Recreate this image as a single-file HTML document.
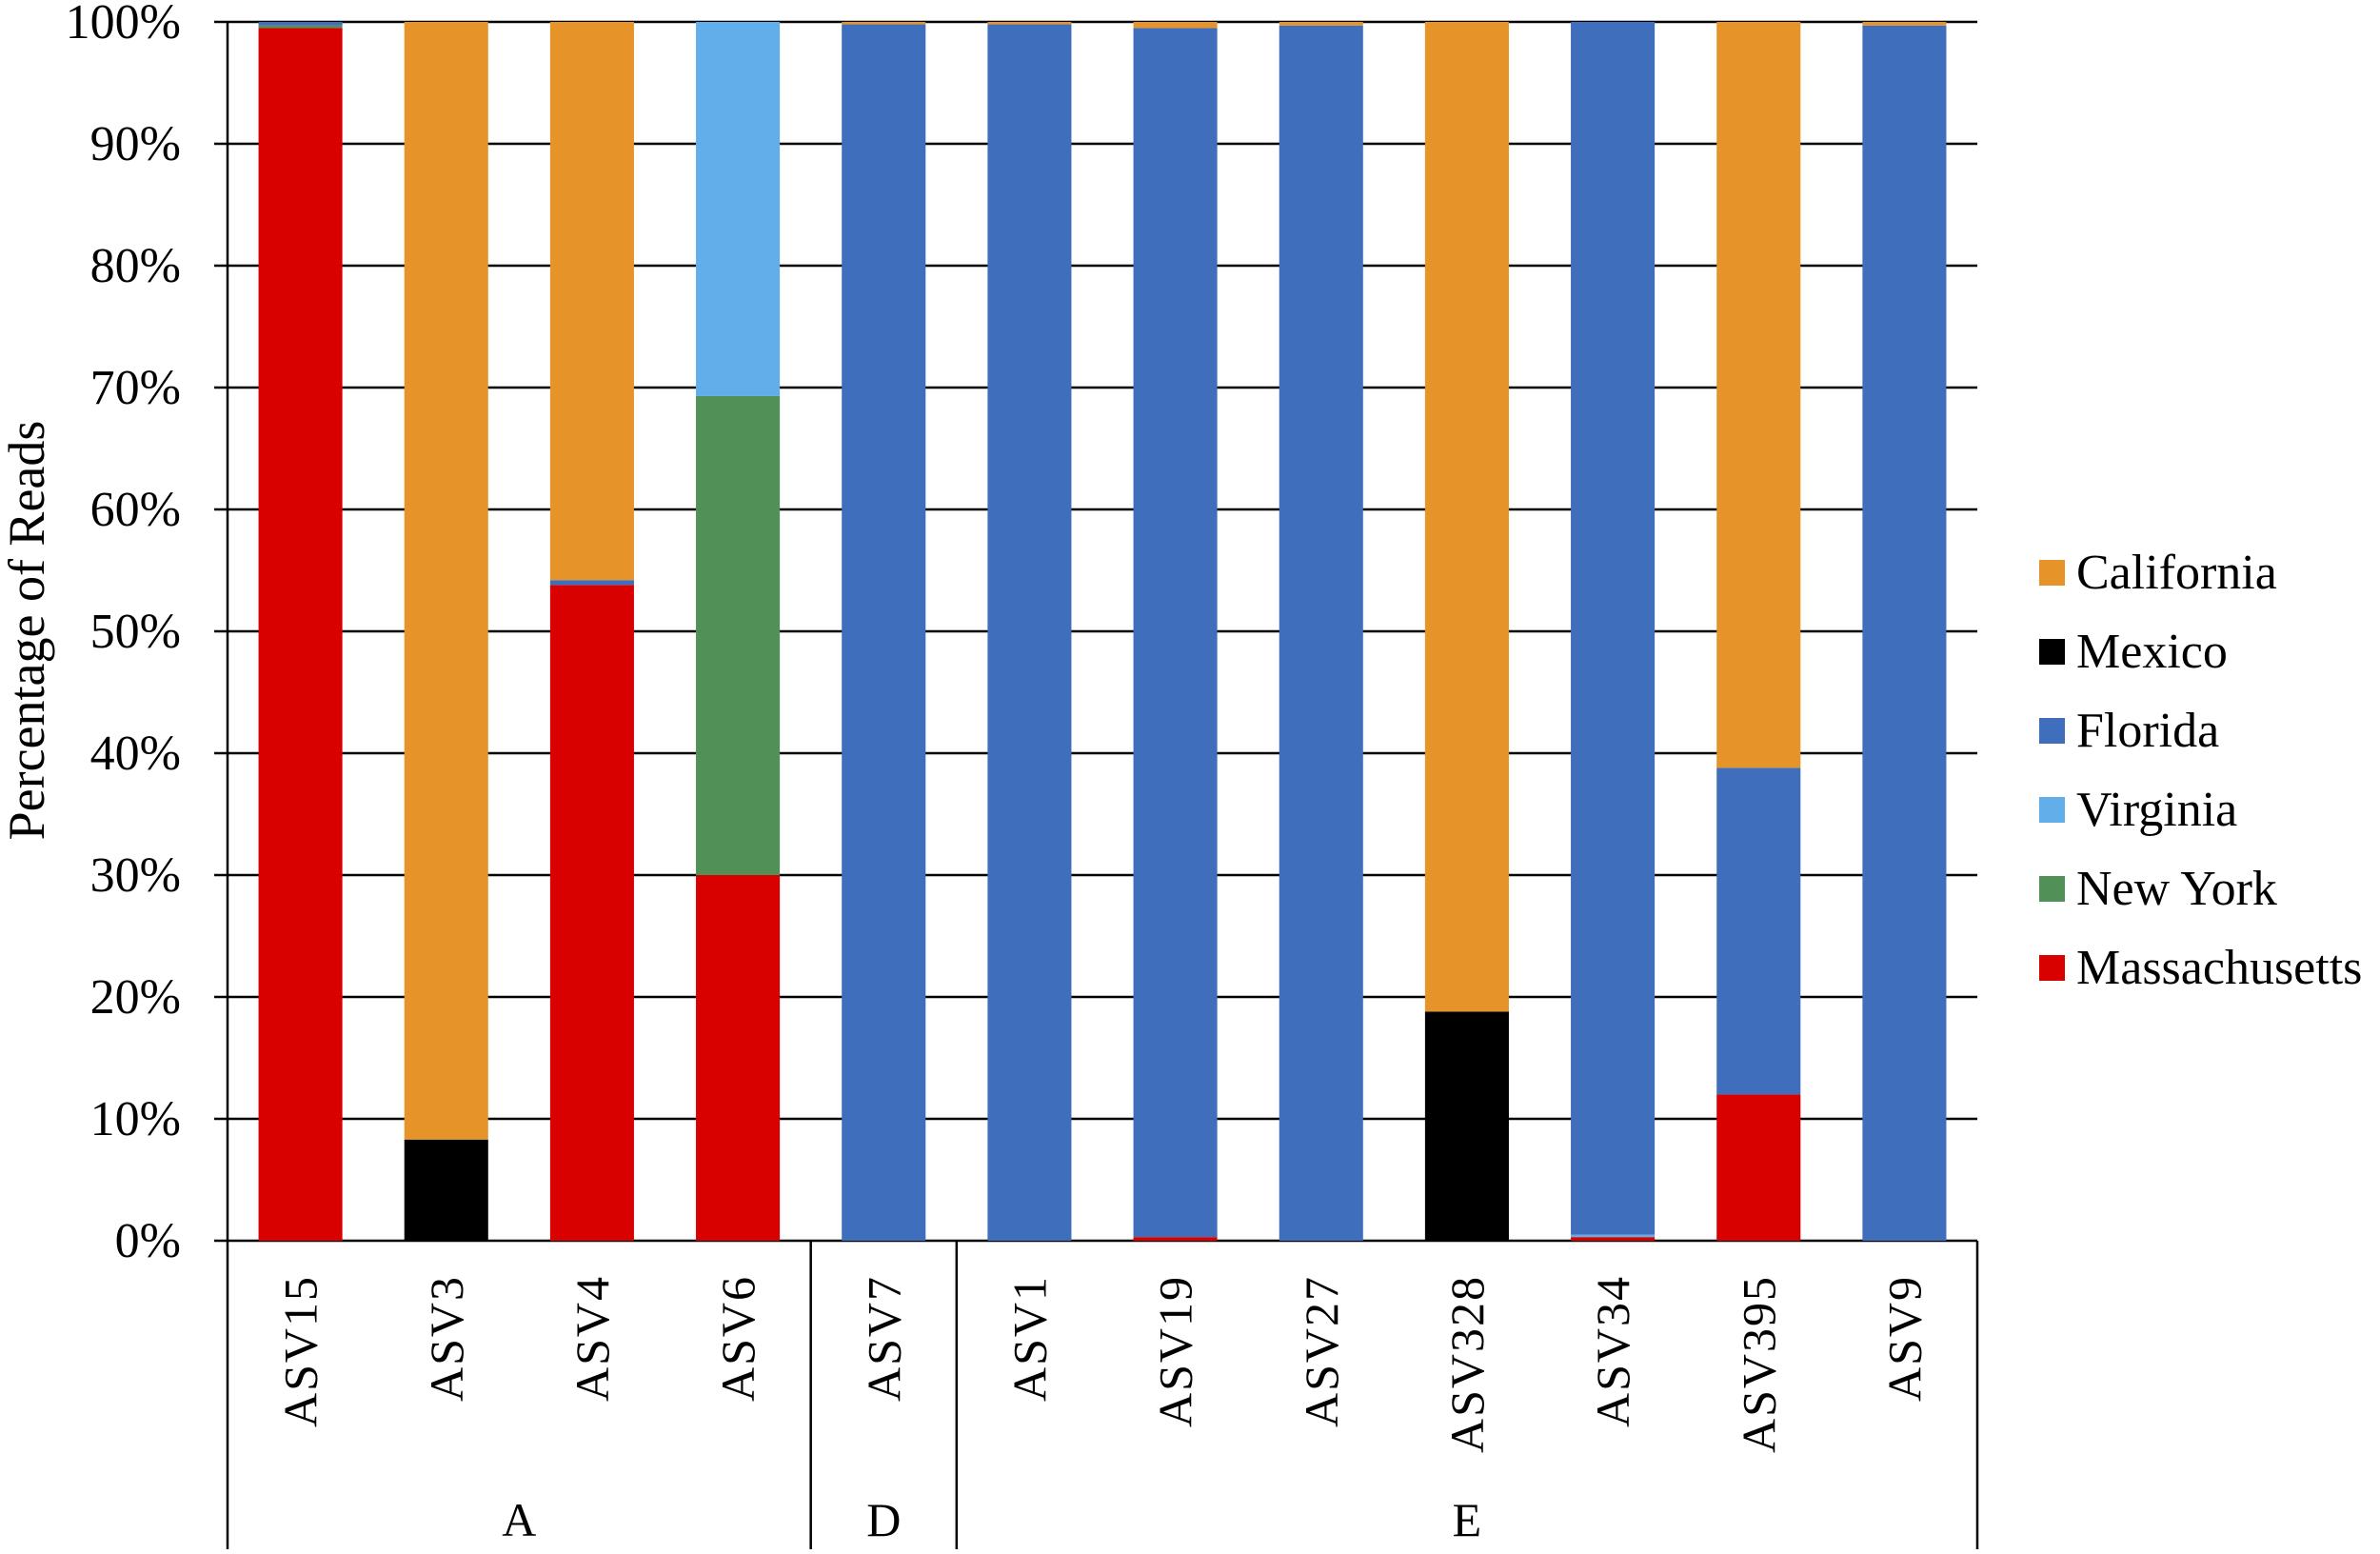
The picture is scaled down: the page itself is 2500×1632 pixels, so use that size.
<!DOCTYPE html>
<html><head><meta charset="utf-8"><style>
html,body{margin:0;padding:0;background:#fff;}
svg{display:block;font-family:"Liberation Serif",serif;}
</style></head><body>
<svg id="chart" width="2500" height="1632" viewBox="0 0 2500 1632" xmlns="http://www.w3.org/2000/svg">
<g id="grid"></g>
<g id="bars"></g>
<g id="axes"></g>
<g id="legend"></g>
<text x="0" y="0" transform="translate(46,662) rotate(-90)" text-anchor="middle" font-size="54">Percentage of Reads</text>
</svg>
<script>
const categories = ["ASV15","ASV3","ASV4","ASV6","ASV7","ASV1","ASV19","ASV27","ASV328","ASV34","ASV395","ASV9"];
const seriesNames = ["Massachusetts","New York","Virginia","Florida","Mexico","California"];
const massachusetts = [99.5,0,53.8,30,0,0,0.3,0,0,0.3,12,0];
const newYork =       [0.2,0,0,39.3,0,0,0,0,0,0,0,0];
const virginia =      [0,0,0,30.7,0,0,0,0,0,0.2,0,0];
const florida =       [0.3,0,0.4,0,99.8,99.8,99.2,99.7,0,99.5,26.8,99.7];
const mexico =        [0,8.3,0,0,0,0,0,0,18.8,0,0,0];
const california =    [0,91.7,45.8,0,0.2,0.2,0.5,0.3,81.2,0,61.2,0.3];
const yTicks = [0,10,20,30,40,50,60,70,80,90,100];
const groups = ["A","D","E"];
const groupSizes = [4,1,7];
const legendOrder = ["California","Mexico","Florida","Virginia","New York","Massachusetts"];

const colors = {"Massachusetts":"#D90000","New York":"#519057","Virginia":"#62AEEA","Florida":"#3F6EBC","Mexico":"#000000","California":"#E6932A"};
const series = [massachusetts,newYork,virginia,florida,mexico,california];
const NS="http://www.w3.org/2000/svg";
const X0=239,X1=2077,Y0=1303,Y100=23;
const bandW=(X1-X0)/categories.length, barW=bandW*0.575;
const y=v=>Y0-(v/100)*(Y0-Y100);
const xc=i=>X0+bandW*(i+0.5);
function mk(tag,attrs,parent){const e=document.createElementNS(NS,tag);for(const k in attrs)e.setAttribute(k,attrs[k]);parent.appendChild(e);return e;}
const grid=document.getElementById('grid'),bars=document.getElementById('bars'),axes=document.getElementById('axes'),legend=document.getElementById('legend');
yTicks.forEach(t=>{
  const l=mk('line',{x1:X0-14,x2:X1,y1:y(t),y2:y(t),stroke:'#000','stroke-width':2.5},grid);
  
  
  const tx=mk('text',{x:190,y:y(t)+17,'text-anchor':'end','font-size':52},axes);
  tx.textContent=t+'%';
  
  
});
categories.forEach((c,i)=>{
  let acc=0;
  series.forEach((s,j)=>{
    const v=s[i]; if(!v) return;
    const r=mk('rect',{x:xc(i)-barW/2,y:y(acc+v),width:barW,height:y(acc)-y(acc+v),fill:colors[seriesNames[j]]},bars);
    
    
    acc+=v;
  });
  const tx=mk('text',{x:0,y:0,transform:'translate('+(xc(i)+17)+',1339) rotate(-90)','text-anchor':'end','font-size':50,'letter-spacing':'2'},axes);
  tx.textContent=c;
  
  
});
const ax=mk('line',{x1:X0,x2:X0,y1:Y100,y2:Y0,stroke:'#000','stroke-width':2.5},axes);


let start=0;
const seps=[0];
groupSizes.forEach(n=>{start+=n;seps.push(start);});
seps.forEach(k=>{
  const xx=X0+k*bandW;
  const l=mk('line',{x1:xx,x2:xx,y1:Y0,y2:1627,stroke:'#000','stroke-width':2.5},axes);
  
  
});
groups.forEach((g,gi)=>{
  const mid=X0+bandW*(seps[gi]+seps[gi+1])/2;
  const tx=mk('text',{x:mid,y:1613,'text-anchor':'middle','font-size':50},axes);
  tx.textContent=g;
  
  
});
legendOrder.forEach((n,i)=>{
  const yy=588+i*83;
  const g=mk('g',{},legend);
  
  
  mk('rect',{x:2142,y:yy,width:27,height:27,fill:colors[n]},g);
  const tx=mk('text',{x:2181,y:yy+30,'font-size':52},g);
  tx.textContent=n;
});
</script>
</body></html>
